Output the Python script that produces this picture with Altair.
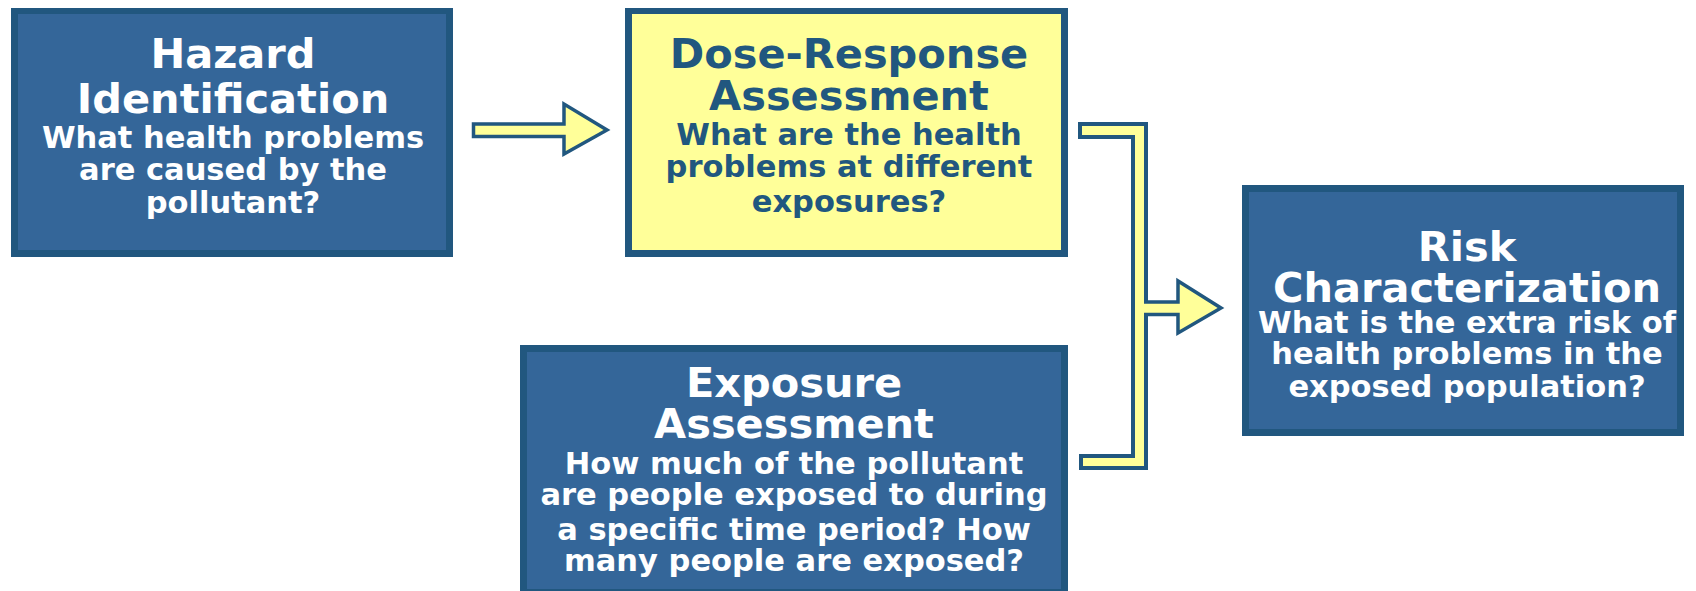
import altair as alt
import pandas as pd

# ---- boxes (pixel layout of the flow diagram) ----
box_id = ["hazard", "dose", "exposure", "risk"]
box_left = [11, 625, 520, 1242]
box_right = [453, 1068, 1068, 1684]
box_top = [7, 7, 345, 185]
box_bottom = [257, 257, 596, 436]
box_kind = ["blue", "yellow", "blue", "blue"]
border_w = 7

titles = [["Hazard", "Identification"],
          ["Dose-Response", "Assessment"],
          ["Exposure", "Assessment"],
          ["Risk", "Characterization"]]
title_baselines = [[68, 113], [68, 110], [397, 438], [261, 302]]
questions = [["What health problems", "are caused by the", "pollutant?"],
             ["What are the health", "problems at different", "exposures?"],
             ["How much of the pollutant", "are people exposed to during",
              "a specific time period? How", "many people are exposed?"],
             ["What is the extra risk of", "health problems in the",
              "exposed population?"]]
question_baselines = [[148, 180, 213], [145, 177, 212],
                      [474, 505, 540, 571], [333, 364, 397]]
text_center = [233, 849, 794, 1467]

# ---- bracket connector (outer rectangles, border 4px) ----
bracket_left = [1078, 1131, 1079]
bracket_right = [1148, 1148, 1148]
bracket_top = [122, 122, 454]
bracket_bottom = [139, 470, 470]
bracket_border = 4

# ---- arrows (outline polygon points, left to right) ----
arrow_id = ["a1", "a1", "a1", "a1", "a2", "a2", "a2", "a2"]
arrow_x = [473.5, 563.99, 564, 607, 1140, 1177.99, 1178, 1221]
arrow_ytop = [124, 124, 104, 130, 302, 302, 281, 308]
arrow_ybot = [136.5, 136.5, 154, 130, 314.5, 314.5, 333, 308]

DARK = "#21577F"
BLUE = "#346699"
YELLOW = "#FFFF99"
W, H = 1680, 583
xs = alt.Scale(domain=[8, 8 + W], nice=False, zero=False)
ys = alt.Scale(domain=[8, 8 + H], nice=False, zero=False, reverse=True)

boxes = pd.DataFrame({"id": box_id, "x0": box_left, "x1": box_right,
                      "y0": box_top, "y1": box_bottom, "kind": box_kind})
boxes["ix0"] = boxes.x0 + border_w
boxes["ix1"] = boxes.x1 - border_w
boxes["iy0"] = boxes.y0 + border_w
boxes["iy1"] = boxes.y1 - border_w

outer = alt.Chart(boxes).mark_rect(color=DARK).encode(
    x=alt.X("x0:Q", scale=xs, axis=None), x2="x1:Q",
    y=alt.Y("y0:Q", scale=ys, axis=None), y2="y1:Q")
inner = alt.Chart(boxes).mark_rect().encode(
    x=alt.X("ix0:Q", scale=xs, axis=None), x2="ix1:Q",
    y=alt.Y("iy0:Q", scale=ys, axis=None), y2="iy1:Q",
    color=alt.Color("kind:N", scale=alt.Scale(domain=["blue", "yellow"], range=[BLUE, YELLOW]), legend=None))

br = pd.DataFrame({"x0": bracket_left, "x1": bracket_right,
                   "y0": bracket_top, "y1": bracket_bottom})
br["ix0"] = br.x0 + bracket_border
br["ix1"] = br.x1 - bracket_border
br["iy0"] = br.y0 + bracket_border
br["iy1"] = br.y1 - bracket_border
br_outer = alt.Chart(br).mark_rect(color=DARK).encode(
    x=alt.X("x0:Q", scale=xs, axis=None), x2="x1:Q",
    y=alt.Y("y0:Q", scale=ys, axis=None), y2="y1:Q")
br_inner = alt.Chart(br).mark_rect(color=YELLOW).encode(
    x=alt.X("ix0:Q", scale=xs, axis=None), x2="ix1:Q",
    y=alt.Y("iy0:Q", scale=ys, axis=None), y2="iy1:Q")

arr = pd.DataFrame({"id": arrow_id, "x": arrow_x, "yt": arrow_ytop,
                    "yb": arrow_ybot})
arrows = alt.Chart(arr).mark_area(fill=YELLOW, stroke=DARK,
                                   strokeWidth=3.5, strokeJoin="miter",
                                   opacity=1, fillOpacity=1,
                                   interpolate="linear", orient="vertical").encode(
    x=alt.X("x:Q", scale=xs, axis=None),
    y=alt.Y("yt:Q", scale=ys, axis=None, stack=None), y2="yb:Q",
    detail="id:N")

rows = []
for i in range(len(box_id)):
    col = DARK if box_kind[i] == "yellow" else "#FFFFFF"
    for t, b in zip(titles[i], title_baselines[i]):
        rows.append({"text": t, "x": text_center[i], "y": b, "size": 41.5, "col": col})
    for t, b in zip(questions[i], question_baselines[i]):
        rows.append({"text": t, "x": text_center[i], "y": b, "size": 30.5, "col": col})
txt = pd.DataFrame(rows)
texts = alt.Chart(txt).mark_text(font="DejaVu Sans", fontWeight="bold",
                                 align="center", baseline="alphabetic").encode(
    x=alt.X("x:Q", scale=xs, axis=None),
    y=alt.Y("y:Q", scale=ys, axis=None),
    text="text:N",
    size=alt.Size("size:Q", scale=None, legend=None),
    color=alt.Color("col:N", scale=None, legend=None))

chart = alt.layer(outer, inner, br_outer, arrows, br_inner, texts).properties(
    width=W, height=H, padding=0,
    autosize=alt.AutoSizeParams(type="none"),
    background="white"
).configure_view(strokeWidth=0)

chart.save("out.html", embed_options={"renderer": "svg", "actions": False})
